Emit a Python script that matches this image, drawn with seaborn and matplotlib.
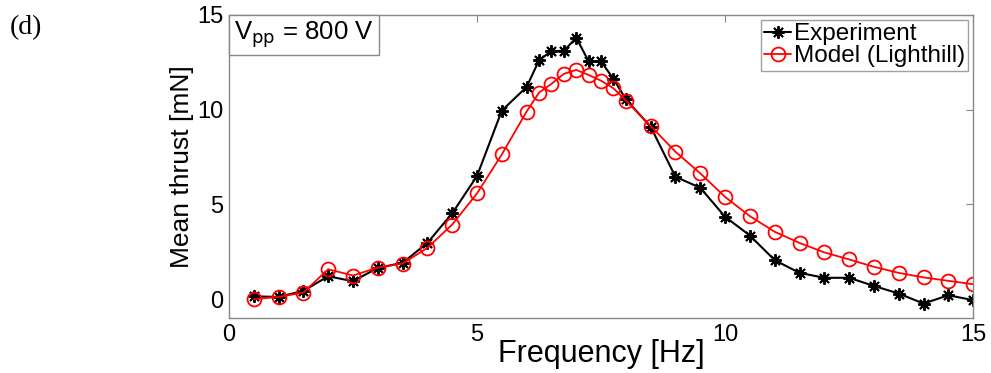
import numpy as np
import pandas as pd
import seaborn as sns
import matplotlib.pyplot as plt
from matplotlib.offsetbox import AnchoredText

# frequências (Hz) e empuxo médio (mN)
freq = [0.5, 1.0, 1.5, 2.0, 2.5, 3.0, 3.5, 4.0, 4.5, 5.0, 5.5, 6.0, 6.25, 6.5,
        6.75, 7.0, 7.25, 7.5, 7.75, 8.0, 8.5, 9.0, 9.5, 10.0, 10.5, 11.0, 11.5,
        12.0, 12.5, 13.0, 13.5, 14.0, 14.5, 15.0]
experiment = [0.15, 0.12, 0.44, 1.21, 0.95, 1.65, 1.92, 2.97, 4.53, 6.5, 9.95,
              11.2, 12.6, 13.1, 13.1, 13.8, 12.55, 12.55, 11.62, 10.55, 9.1,
              6.46, 5.88, 4.35, 3.36, 2.06, 1.39, 1.13, 1.13, 0.70, 0.30, -0.23,
              0.21, -0.05]
model = [0.0, 0.12, 0.35, 1.58, 1.25, 1.67, 1.88, 2.71, 3.94, 5.58, 7.64, 9.9,
         10.9, 11.36, 11.89, 12.1, 11.83, 11.53, 11.13, 10.48, 9.14, 7.78, 6.64,
         5.4, 4.38, 3.56, 2.97, 2.47, 2.1, 1.71, 1.39, 1.15, 0.97, 0.79]

sns.set_style('white')
plt.rcParams['font.family'] = ['Liberation Sans', 'DejaVu Sans']
plt.rcParams['text.color'] = 'black'
plt.rcParams['axes.labelcolor'] = 'black'
plt.rcParams['xtick.labelcolor'] = 'black'
plt.rcParams['ytick.labelcolor'] = 'black'

df = pd.DataFrame({'freq': freq, 'exp': experiment, 'model': model})

fig = plt.figure(figsize=(9.91, 3.73), dpi=100)
ax = fig.add_axes([0.231, 0.147, 0.751, 0.813])

sns.lineplot(data=df, x='freq', y='exp', ax=ax, color='black', lw=1.5,
             marker=(8, 2, 0), ms=9, mew=1.4, mec='black', label='Experiment')
sns.lineplot(data=df, x='freq', y='model', ax=ax, color='red', lw=1.3,
             marker='o', ms=10, mfc='none', mec='red', mew=1.3,
             label='Model (Lighthill)')

ax.set_xlim(0, 15)
ax.set_ylim(-1, 15)
ax.set_xticks([0, 5, 10, 15])
ax.set_yticks([0, 5, 10, 15])
ax.tick_params(direction='in', length=5, color='#888888', labelsize=17,
               top=True, right=True, pad=4)
for s in ax.spines.values():
    s.set_color('#888888')
    s.set_linewidth(1.0)

ax.set_xlabel('Frequency [Hz]', fontsize=22, labelpad=-5)
ax.set_ylabel('Mean thrust [mN]', fontsize=19, labelpad=2)

leg = ax.legend(loc='upper right', fontsize=17.5, frameon=True, fancybox=False,
                handlelength=1.1, handletextpad=0.1, labelspacing=0.0,
                borderpad=0.15, borderaxespad=0.2, edgecolor='#888888')
leg.get_frame().set_linewidth(1.0)

at = AnchoredText(r'V$_{\rm pp}$ = 800 V', loc='upper left', frameon=True,
                  borderpad=0.0, pad=0.2, prop=dict(size=18.5))
at.patch.set_edgecolor('#888888')
at.patch.set_linewidth(1.0)
at.patch.set_boxstyle('square', pad=0)
ax.add_artist(at)

fig.text(0.01, 0.925, '(d)', fontsize=20, family='Liberation Serif',
         va='center', ha='left')

fig.savefig('out.png', dpi=100)
